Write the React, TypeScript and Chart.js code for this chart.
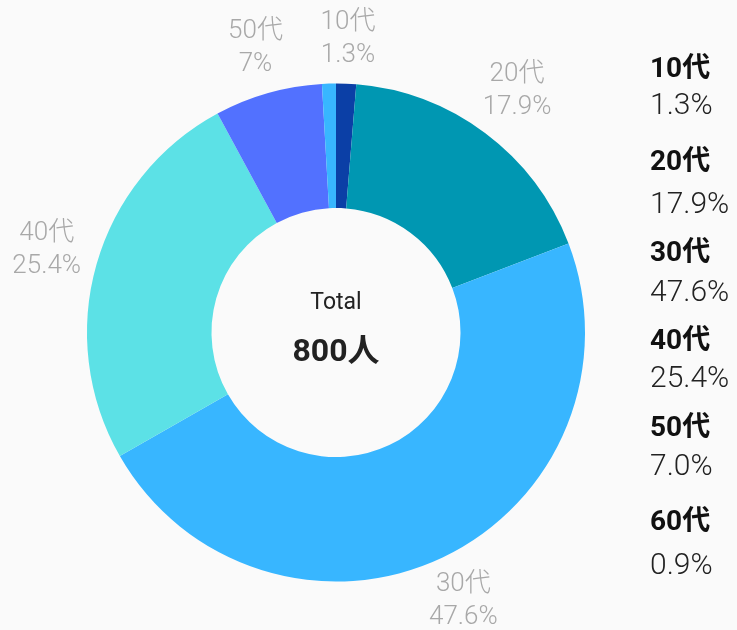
import React, { useEffect, useRef } from "react";
import { Chart, registerables } from "chart.js";

Chart.register(...registerables);

const categories = ["10代", "20代", "30代", "40代", "50代", "60代"];
const shares = [1.3, 17.9, 47.6, 25.4, 7.0, 0.9];
const outerLabels = ["1.3%", "17.9%", "47.6%", "25.4%", "7%", ""];
const legendValues = ["1.3%", "17.9%", "47.6%", "25.4%", "7.0%", "0.9%"];
const colors = ["#0b3fa6", "#0097b2", "#38b6ff", "#5ce1e6", "#5271ff", "#38b6ff"];
const totalLabel = "Total";
const totalValue = "800人";

const FONT = "Roboto, 'Noto Sans CJK JP', sans-serif";
const legendRows = [
  [70, 106],
  [163, 205],
  [254, 293],
  [342, 379],
  [429, 467],
  [523, 566],
];

const overlayPlugin = {
  id: "overlay",
  afterDraw(chart: any) {
    const ctx = chart.ctx;
    const meta = chart.getDatasetMeta(0);
    ctx.save();
    // outside labels: box placed just beyond the ring along mid-angle
    const lineGap = 33;
    const hh = 31;
    ctx.font = `300 26px ${FONT}`;
    meta.data.forEach((arc: any, i: number) => {
      const txt = outerLabels[i];
      if (!txt) return;
      const mid = (arc.startAngle + arc.endAngle) / 2;
      const vx = Math.cos(mid);
      const vy = Math.sin(mid);
      const hw =
        Math.max(ctx.measureText(categories[i]).width, ctx.measureText(txt).width) / 2 + 2;
      const ext = Math.min(
        Math.abs(vx) > 1e-6 ? hw / Math.abs(vx) : 1e9,
        Math.abs(vy) > 1e-6 ? hh / Math.abs(vy) : 1e9
      );
      const r = arc.outerRadius + 14 + ext;
      const x = arc.x + vx * r;
      const y = arc.y + vy * r;
      ctx.fillStyle = "#a8a8a8";
      ctx.textAlign = "center";
      ctx.textBaseline = "middle";
      ctx.fillText(categories[i], x, y - lineGap / 2);
      ctx.fillText(txt, x, y + lineGap / 2);
    });
    // center text
    const a0 = meta.data[0];
    ctx.fillStyle = "#222";
    ctx.textAlign = "center";
    ctx.textBaseline = "middle";
    ctx.font = `23px ${FONT}`;
    ctx.fillText(totalLabel, a0.x, a0.y - 29);
    ctx.font = `bold 32px ${FONT}`;
    ctx.fillText(totalValue, a0.x, a0.y + 20);
    // legend
    ctx.textAlign = "left";
    categories.forEach((c, i) => {
      const [y1, y2] = legendRows[i];
      ctx.fillStyle = "#111";
      ctx.font = `bold 28px ${FONT}`;
      ctx.fillText(c, 650, y1);
      ctx.fillStyle = "#222";
      ctx.font = `300 30px ${FONT}`;
      ctx.fillText(legendValues[i], 650, y2);
    });
    ctx.restore();
  },
};

export default function App() {
  const ref = useRef<HTMLCanvasElement>(null);
  useEffect(() => {
    document.body.style.margin = "0";
    document.body.style.background = "#fafafa";
    const chart = new Chart(ref.current!, {
      type: "doughnut",
      data: {
        labels: categories,
        datasets: [
          {
            data: shares,
            backgroundColor: colors,
            borderWidth: 0,
          },
        ],
      },
      options: {
        animation: false,
        responsive: false,
        cutout: "50%",
        layout: { padding: { left: 87, right: 152, top: 83, bottom: 48 } },
        plugins: { legend: { display: false }, tooltip: { enabled: false } },
      },
      plugins: [overlayPlugin],
    });
    return () => chart.destroy();
  }, []);
  return (
    <div style={{ width: 737, height: 630, background: "#fafafa" }}>
      <canvas ref={ref} width={737} height={630} style={{ display: "block" }} />
    </div>
  );
}
